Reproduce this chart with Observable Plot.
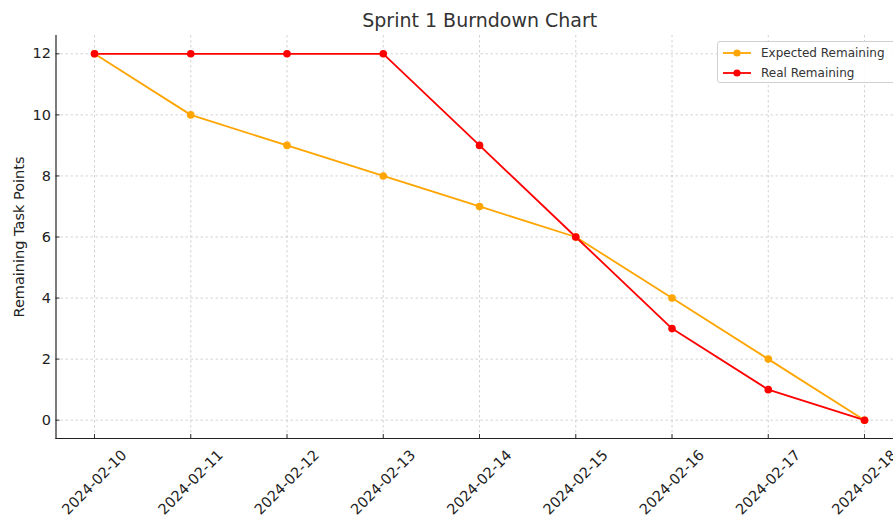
<!DOCTYPE html>
<html>
<head>
<meta charset="utf-8">
<script src="https://cdn.jsdelivr.net/npm/d3@7"></script>
<script src="https://cdn.jsdelivr.net/npm/@observablehq/plot@0.6"></script>
<style>
  html, body { margin: 0; padding: 0; background: #fff; overflow: hidden; }
  body { width: 893px; height: 515px; position: relative; font-family: "DejaVu Sans", sans-serif; }
  #legend { position: absolute; left: 717px; top: 41px; width: 190px; height: 42px;
    border: 1px solid #d0d0d0; border-radius: 3px; background: rgba(255,255,255,0.85);
    box-sizing: border-box; font-size: 12px; color: #333; }
  .entry { position: absolute; left: 4px; height: 18px; display: flex; align-items: center; }
  .entry span { margin-left: 9px; }
</style>
</head>
<body>
<div id="chart"></div>
<div id="legend"></div>
<script>
const title = "Sprint 1 Burndown Chart";
const yLabel = "Remaining Task Points";
const dates = ["2024-02-10","2024-02-11","2024-02-12","2024-02-13","2024-02-14","2024-02-15","2024-02-16","2024-02-17","2024-02-18"];
const expected = [12, 10, 9, 8, 7, 6, 4, 2, 0];
const real = [12, 12, 12, 12, 9, 6, 3, 1, 0];
const seriesNames = ["Expected Remaining", "Real Remaining"];
const seriesColors = ["#FFA500", "#FF0000"];
const yTicks = [0, 2, 4, 6, 8, 10, 12];

const parse = d3.utcParse("%Y-%m-%d");
const dateObjs = dates.map(parse);
const rows = [];
[expected, real].forEach((vals, s) => {
  vals.forEach((v, i) => rows.push({date: dateObjs[i], value: v, series: seriesNames[s]}));
});

const day = 864e5;
const x0 = new Date(+dateObjs[0] - 0.4 * day);
const x1 = new Date(+dateObjs[dateObjs.length - 1] + 0.301 * day);

const plot = Plot.plot({
  width: 893,
  height: 515,
  marginTop: 35,
  marginBottom: 77,
  marginLeft: 55.5,
  marginRight: 0,
  style: {fontFamily: "DejaVu Sans, sans-serif", background: "#fff", color: "#222"},
  x: {type: "utc", domain: [x0, x1]},
  y: {domain: [-0.6, 12.6]},
  color: {domain: seriesNames, range: seriesColors},
  marks: [
    Plot.gridX(dateObjs, {stroke: "#b0b0b0", strokeOpacity: 0.7, strokeDasharray: "2.5,2.5", strokeWidth: 0.8}),
    Plot.gridY(yTicks, {stroke: "#b0b0b0", strokeOpacity: 0.7, strokeDasharray: "2.5,2.5", strokeWidth: 0.8}),
    Plot.axisY(yTicks, {tickSize: -4, tickPadding: 9, fontSize: 14.5, label: null, fill: "#222", stroke: "#333"}),
    Plot.axisX(dateObjs, {tickSize: -4, tickFormat: () => "", label: null, stroke: "#333"}),
    Plot.text(dateObjs, {x: d => d, text: (d, i) => dates[i], frameAnchor: "bottom", rotate: -45,
      textAnchor: "middle", lineAnchor: "middle", dy: 44, fontSize: 14.5, fill: "#222"}),
    Plot.frame({anchor: "left", stroke: "#222", strokeWidth: 1.2}),
    Plot.frame({anchor: "bottom", stroke: "#222", strokeWidth: 1.2}),
    Plot.text([yLabel], {frameAnchor: "left", rotate: -90, textAnchor: "middle", lineAnchor: "middle", dx: -37, fontSize: 14.5, fill: "#222"}),
    Plot.text([title], {frameAnchor: "top", lineAnchor: "middle", dy: -15, dx: 5, fontSize: 19, fill: "#333"}),
    Plot.line(rows, {x: "date", y: "value", stroke: "series", strokeWidth: 1.8, z: "series"}),
    Plot.dot(rows, {x: "date", y: "value", fill: "series", r: 3.8, stroke: null})
  ]
});
document.getElementById("chart").appendChild(plot);

const legend = document.getElementById("legend");
seriesNames.forEach((name, i) => {
  const e = document.createElement("div");
  e.className = "entry";
  e.style.top = (2 + i * 19.5) + "px";
  e.innerHTML = `<svg width="30" height="12"><line x1="1" y1="6" x2="29" y2="6" stroke="${seriesColors[i]}" stroke-width="1.8"/><circle cx="15" cy="6" r="3.6" fill="${seriesColors[i]}"/></svg><span>${name}</span>`;
  legend.appendChild(e);
});
</script>
</body>
</html>
